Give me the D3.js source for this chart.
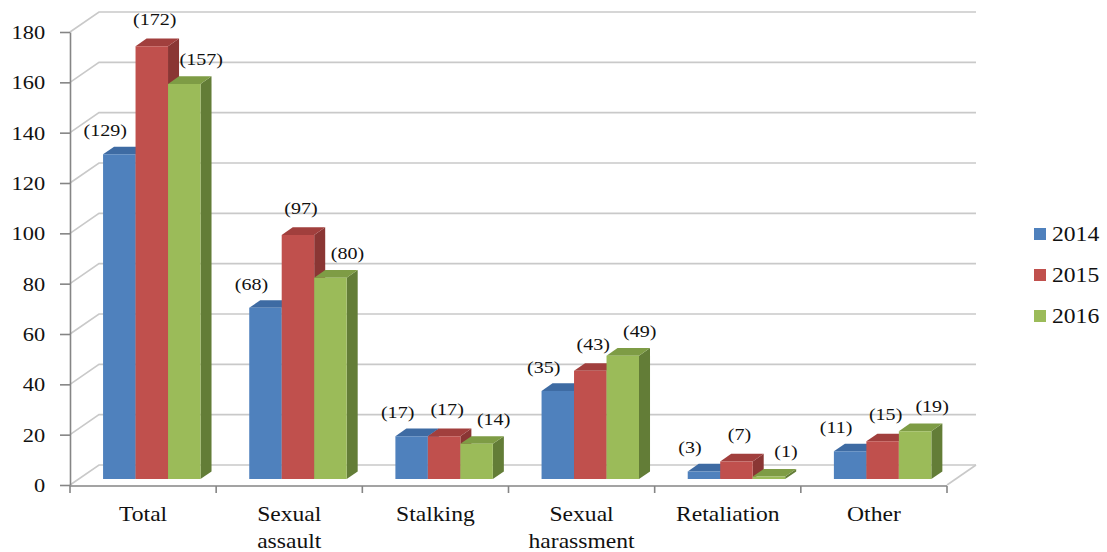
<!DOCTYPE html>
<html>
<head>
<meta charset="utf-8">
<script src="https://cdn.jsdelivr.net/npm/d3@7"></script>
<style>
  body { margin: 0; background: #fff; }
  text { font-family: "Liberation Serif", "Times New Roman", serif; fill: #111; }
</style>
</head>
<body>
<svg id="chart" width="1107" height="552"></svg>
<script>
// Reports by type, three years
var categories = ["Total", "Sexual assault", "Stalking", "Sexual harassment", "Retaliation", "Other"];
var years = ["2014", "2015", "2016"];
var values2014 = [129, 68, 17, 35, 3, 11];
var values2015 = [172, 97, 17, 43, 7, 15];
var values2016 = [157, 80, 14, 49, 1, 19];
var yTicks = [0, 20, 40, 60, 80, 100, 120, 140, 160, 180];

var series = [values2014, values2015, values2016];
var frontColors = ["#4F81BD", "#C0504D", "#9BBB59"];
var topColors = ["#3E6BA3", "#A13F3D", "#7E9C45"];
var sideColors = ["#375C89", "#8A3634", "#637D37"];

var svg = d3.select("#chart");
var STRETCH = 1.18; // the source text is a bit wide

// simple oblique projection: z = 0 is the front plane, z = 1 the back wall
var DX = 29, DY = -20;
function proj(x, y, z) {
  return [x + DX * z, y + DY * z];
}

var x = d3.scaleBand().domain(categories).range([70, 947]).paddingInner(0).paddingOuter(0);
var y = d3.scaleLinear().domain([0, 180]).range([485, 32]);
var barW = x.bandwidth() / 4.5;
var inner = d3.scaleBand().domain([0, 1, 2])
  .range([barW * 0.75, x.bandwidth() - barW * 0.75]).padding(0);

var gridColor = "#C9C9C9";
var axisColor = "#858585";

// back wall gridlines + left wall diagonals
var grid = svg.append("g");
yTicks.forEach(function(v) {
  var a = proj(x.range()[0], y(v), 0);
  var b = proj(x.range()[0], y(v), 1);
  var c = proj(x.range()[1], y(v), 1);
  grid.append("path")
    .attr("d", "M" + a + "L" + b + "L" + c)
    .attr("fill", "none")
    .attr("stroke", gridColor)
    .attr("stroke-width", 1.6);
});
// floor right edge
var f1 = proj(x.range()[1], y(0), 0), f2 = proj(x.range()[1], y(0), 1);
grid.append("line")
  .attr("x1", f1[0]).attr("y1", f1[1]).attr("x2", f2[0]).attr("y2", f2[1])
  .attr("stroke", gridColor).attr("stroke-width", 1.6);

// Y axis
var yAxis = svg.append("g")
  .attr("transform", "translate(70,0)")
  .call(d3.axisLeft(y).tickValues(yTicks).tickSize(10).tickSizeOuter(0));
yAxis.attr("font-family", null);
yAxis.select(".domain").attr("stroke", axisColor).attr("stroke-width", 1.6);
yAxis.selectAll(".tick line").attr("stroke", axisColor).attr("stroke-width", 1.6);
yAxis.selectAll(".tick text")
  .attr("x", -21)
  .attr("dy", "0.34em")
  .attr("transform", "scale(" + STRETCH + ",1)")
  .style("font-size", "19px")
  .style("font-family", "Liberation Serif")
  .attr("fill", "#111");

// X axis line and boundary ticks
var xAxis = svg.append("g");
var bounds = categories.map(function(c) { return x(c); }).concat([x.range()[1]]);
xAxis.append("line")
  .attr("x1", x.range()[0]).attr("x2", x.range()[1])
  .attr("y1", y(0) + 1).attr("y2", y(0) + 1)
  .attr("stroke", axisColor).attr("stroke-width", 1.6);
xAxis.selectAll(".xt")
  .data(bounds)
  .enter()
  .append("line")
    .attr("x1", function(d) { return d; }).attr("x2", function(d) { return d; })
    .attr("y1", y(0) + 1).attr("y2", y(0) + 8)
    .attr("stroke", axisColor).attr("stroke-width", 1.6);

// category labels, wrapped on spaces
categories.forEach(function(c) {
  var cx = x(c) + x.bandwidth() / 2;
  c.split(" ").forEach(function(word, k) {
    svg.append("text")
      .attr("transform", "translate(" + cx + "," + (521 + k * 27) + ") scale(" + STRETCH + ",1)")
      .attr("text-anchor", "middle")
      .style("font-size", "20px")
      .text(word);
  });
});

// bars
var Z1 = 0.3, Z2 = 0.68;
var bars = svg.append("g");
categories.forEach(function(c, i) {
  series.forEach(function(vals, s) {
    var v = vals[i];
    var x0 = x(c) + inner(s);
    var x1 = x0 + inner.bandwidth();
    var yb = y(0), yt = y(v);
    var fbl = proj(x0, yb, Z1), fbr = proj(x1, yb, Z1);
    var ftl = proj(x0, yt, Z1), ftr = proj(x1, yt, Z1);
    var btl = proj(x0, yt, Z2), btr = proj(x1, yt, Z2), bbr = proj(x1, yb, Z2);
    // side
    bars.append("path")
      .attr("d", "M" + fbr + "L" + bbr + "L" + btr + "L" + ftr + "Z")
      .attr("fill", sideColors[s]);
    // top
    bars.append("path")
      .attr("d", "M" + ftl + "L" + btl + "L" + btr + "L" + ftr + "Z")
      .attr("fill", topColors[s]);
    // front
    bars.append("path")
      .attr("d", "M" + fbl + "L" + fbr + "L" + ftr + "L" + ftl + "Z")
      .attr("fill", frontColors[s]);
  });
});

// data labels
var labelDx = [-14, 3, 17];
var labelDy = [-18, -21, -19];
var labels = svg.append("g");
categories.forEach(function(c, i) {
  series.forEach(function(vals, s) {
    var v = vals[i];
    var cx = x(c) + inner(s) + inner.bandwidth() / 2;
    var p = proj(cx, y(v), Z1);
    labels.append("text")
      .attr("transform", "translate(" + (p[0] + labelDx[s]) + "," + (p[1] + labelDy[s]) + ") scale(" + STRETCH + ",1)")
      .attr("text-anchor", "middle")
      .style("font-size", "17px")
      .text("(" + v + ")");
  });
});

// legend
var legend = svg.append("g").attr("transform", "translate(1034,0)");
years.forEach(function(yr, s) {
  var base = 241 + s * 41;
  legend.append("rect")
    .attr("x", 0).attr("y", base - 13)
    .attr("width", 12).attr("height", 12)
    .attr("fill", frontColors[s]);
  legend.append("text")
    .attr("transform", "translate(18," + base + ") scale(" + STRETCH + ",1)")
    .style("font-size", "20px")
    .text(yr);
});
</script>
</body>
</html>
